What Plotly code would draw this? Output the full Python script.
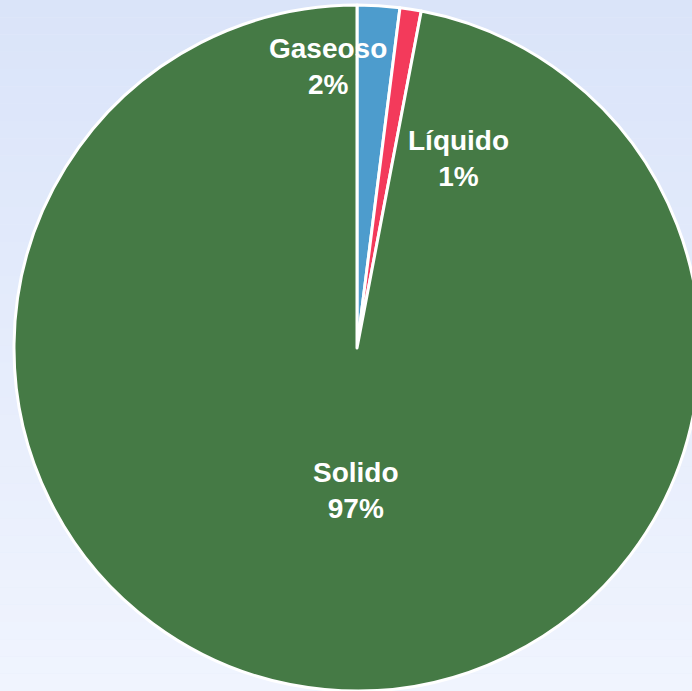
import plotly.graph_objects as go

# Estados de la materia
labels = ["Gaseoso", "Líquido", "Solido"]
values = [2, 1, 97]
colors = ["#4d9ccd", "#f33a5b", "#457a45"]

# Label centre points (pixels from top-left) for each slice
label_px = [(328, 66), (459, 158), (356, 490)]

W, H = 720, 691
CX, CY, R = 357, 348, 343

fig = go.Figure()

fig.add_trace(go.Pie(
    labels=labels,
    values=values,
    sort=False,
    direction="clockwise",
    rotation=0,
    textinfo="none",
    hoverinfo="label+percent",
    marker=dict(colors=colors, line=dict(color="white", width=3)),
    domain=dict(x=[(CX - R) / W, (CX + R) / W], y=[(H - CY - R) / H, (H - CY + R) / H]),
    showlegend=False,
))

total = sum(values)
for lab, val, (px, py) in zip(labels, values, label_px):
    fig.add_annotation(
        x=px / W, y=1 - py / H, xref="paper", yref="paper",
        xanchor="center", yanchor="middle",
        text=f"<b>{lab}<br>{round(100 * val / total)}%</b>",
        showarrow=False,
        font=dict(family="Liberation Sans, Arial, sans-serif", size=28, color="white"),
        align="center",
    )

# soft vertical background gradient
n = 40
top = (218, 228, 249)
bot = (240, 244, 254)
for i in range(n):
    t = i / (n - 1)
    c = tuple(round(top[k] + (bot[k] - top[k]) * t) for k in range(3))
    fig.add_shape(type="rect", xref="paper", yref="paper",
                  x0=0, x1=1, y0=1 - (i + 1) / n, y1=1 - i / n,
                  fillcolor=f"rgb{c}", line=dict(width=0), layer="below")

fig.update_layout(
    width=W, height=H,
    margin=dict(l=0, r=0, t=0, b=0),
    paper_bgcolor="#e4ebfb",
    plot_bgcolor="rgba(0,0,0,0)",
    xaxis=dict(visible=False), yaxis=dict(visible=False),
)

fig.write_html(
    "out.html",
    config={"displayModeBar": False},
    post_script="document.body.style.margin='0';document.body.style.overflow='hidden';"
                "document.documentElement.style.overflow='hidden';",
)
